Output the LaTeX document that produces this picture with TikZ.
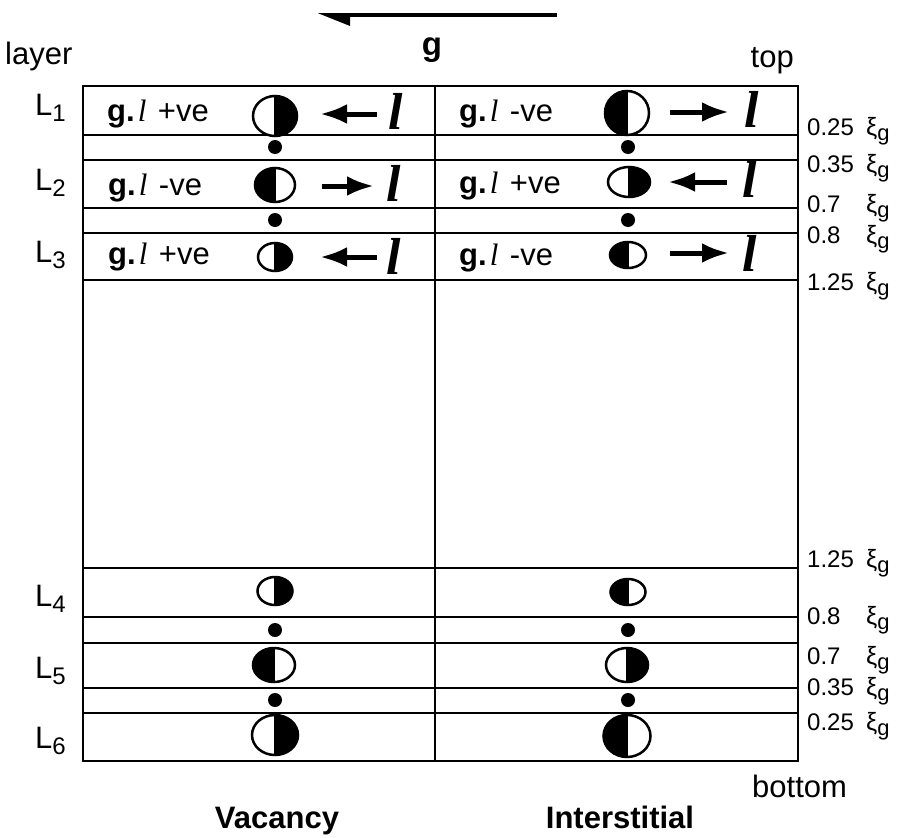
\documentclass[tikz,border=0pt]{standalone}
\usepackage{fontspec}
\setmainfont{Liberation Sans}
\newfontfamily\ellfont{Liberation Serif}
\usetikzlibrary{arrows.meta}
\newcommand\ellsm{{\ellfont\itshape l}}
\newcommand\ellbig{\fontsize{52}{52}\ellfont\bfseries\itshape}
\newcommand\glrow[1]{{\bfseries g.}\hspace{3pt}\ellsm\hspace{3pt} #1}
\newcommand\layerlab[1]{L\raisebox{-6pt}{\fontsize{24}{24}\selectfont #1}}
\newcommand\xilab[1]{\makebox[59pt][l]{#1}\fontsize{25}{25}\selectfont ξ\raisebox{-5pt}{\fontsize{22}{22}\selectfont g}}
% half filled ellipse: x, y, rx, ry, side (1 = right half black, -1 = left half black)
\newcommand\hcirc[5]{%
  \fill[white] (#1,#2) ellipse[x radius=#3, y radius=#4];
  \begin{scope}
    \clip ({#1},{#2-#4-4}) rectangle ({#1+#5*(#3+4)},{#2+#4+4});
    \fill (#1,#2) ellipse[x radius=#3, y radius=#4];
  \end{scope}
  \draw[circ] (#1,#2) ellipse[x radius=#3, y radius=#4];
  \draw[circ] ({#1},{#2-#4}) -- ({#1},{#2+#4});
}
\begin{document}
\begin{tikzpicture}[x=1pt,y=-1pt,
  frame/.style={line width=2pt},
  circ/.style={line width=2.5pt},
  rowarrow/.style={line width=5pt,-{Latex[length=27pt,width=20pt]}},
  rowtxt/.style={anchor=base west,inner sep=0pt,font=\fontsize{31}{31}\selectfont},
  lab/.style={anchor=base west,inner sep=0pt,font=\fontsize{31}{31}\selectfont},
  xilabel/.style={anchor=base west,inner sep=0pt,font=\fontsize{24}{24}\selectfont},
  ellnode/.style={inner sep=0pt,font=\ellbig},
  side/.style={anchor=base west,inner sep=0pt,font=\fontsize{31}{31}\selectfont},
  coltitle/.style={anchor=base,inner sep=0pt,font=\fontsize{31}{31}\selectfont\bfseries},
  dot/.style={fill=black}
]
\path[use as bounding box] (0,0) rectangle (900,838);

% top g arrow
\coordinate (gs) at (557,15);
\coordinate (ge) at (340,15);
\draw[line width=3.6pt] (gs) -- (ge);
\fill (318,13.2) -- (350,13.2) -- (350,26) -- cycle;
\node[anchor=base,inner sep=0pt,font=\fontsize{33}{33}\selectfont\bfseries] (g) at (432,55) {g};

\node[side] (layer) at (5,64) {layer};
\node[side,anchor=base east] (top) at (794,67) {top};
\node[side] (bottom) at (752,797) {bottom};

% frame
\draw[frame] (83,86) rectangle (798,761);
\draw[frame] (435,86) -- (435,761);
\foreach \yy in {135,160,208,233,280,568,617,643,688,713}
  \draw[frame] (83,\yy) -- (798,\yy);

% layer labels
\node[lab] (L1) at (35,115) {\layerlab{1}};
\node[lab] (L2) at (35,190) {\layerlab{2}};
\node[lab] (L3) at (35,262) {\layerlab{3}};
\node[lab] (L4) at (35,606) {\layerlab{4}};
\node[lab] (L5) at (35,678) {\layerlab{5}};
\node[lab] (L6) at (35,748) {\layerlab{6}};

% row texts
\node[rowtxt] (t1l) at (107,121) {\glrow{+ve}};
\node[rowtxt] (t2l) at (108,195) {\glrow{-ve}};
\node[rowtxt] (t3l) at (108,264) {\glrow{+ve}};
\node[rowtxt] (t1r) at (459,121) {\glrow{-ve}};
\node[rowtxt] (t2r) at (459,193) {\glrow{+ve}};
\node[rowtxt] (t3r) at (459,265) {\glrow{-ve}};

% arrows and l symbols
\coordinate (a1ls) at (377,114); \coordinate (a1le) at (320,114);
\coordinate (a2ls) at (322,186); \coordinate (a2le) at (374,186);
\coordinate (a3ls) at (377,257); \coordinate (a3le) at (320,257);
\coordinate (a1rs) at (670,112); \coordinate (a1re) at (729,112);
\coordinate (a2rs) at (727,182); \coordinate (a2re) at (668,182);
\coordinate (a3rs) at (670,253); \coordinate (a3re) at (729,253);
\draw[rowarrow] (a1ls) -- (a1le);
\draw[rowarrow] (a2ls) -- (a2le);
\draw[rowarrow] (a3ls) -- (a3le);
\draw[rowarrow] (a1rs) -- (a1re);
\draw[rowarrow] (a2rs) -- (a2re);
\draw[rowarrow] (a3rs) -- (a3re);
\node[ellnode] (e1l) at (396,111) {l};
\node[ellnode] (e2l) at (394,183) {l};
\node[ellnode] (e3l) at (394,256) {l};
\node[ellnode] (e1r) at (752,109) {l};
\node[ellnode] (e2r) at (750,179) {l};
\node[ellnode] (e3r) at (750,253) {l};

% vacancy circles
\hcirc{275}{116}{22}{20}{1}
\hcirc{275}{185}{20}{17}{-1}
\hcirc{275}{257}{17}{14}{1}
\hcirc{275}{591}{17.5}{14}{1}
\hcirc{274}{665}{21}{17}{-1}
\hcirc{275}{735}{23}{20}{1}
% interstitial circles
\hcirc{627}{113}{22}{22}{-1}
\hcirc{629}{182}{21}{15}{1}
\hcirc{628}{255}{18}{13}{-1}
\hcirc{628}{592}{17.5}{13}{-1}
\hcirc{627}{665}{21}{17}{1}
\hcirc{627}{736}{23.5}{21}{-1}

% dots
\foreach \yy in {147,220,630,700} {
  \fill[dot] (275,\yy) circle[radius=7];
  \fill[dot] (628,\yy) circle[radius=7];
}

% right labels
\node[xilabel] (x1) at (807,135) {\xilab{0.25}};
\node[xilabel] (x2) at (807,172) {\xilab{0.35}};
\node[xilabel] (x3) at (807,212) {\xilab{0.7}};
\node[xilabel] (x4) at (807,243) {\xilab{0.8}};
\node[xilabel] (x5) at (807,290) {\xilab{1.25}};
\node[xilabel] (x6) at (807,567) {\xilab{1.25}};
\node[xilabel] (x7) at (807,624) {\xilab{0.8}};
\node[xilabel] (x8) at (807,664) {\xilab{0.7}};
\node[xilabel] (x9) at (807,695) {\xilab{0.35}};
\node[xilabel] (x10) at (807,730) {\xilab{0.25}};

% column titles
\node[coltitle] (vac) at (277,828) {Vacancy};
\node[coltitle] (int) at (620,828) {Interstitial};
\end{tikzpicture}
\end{document}
